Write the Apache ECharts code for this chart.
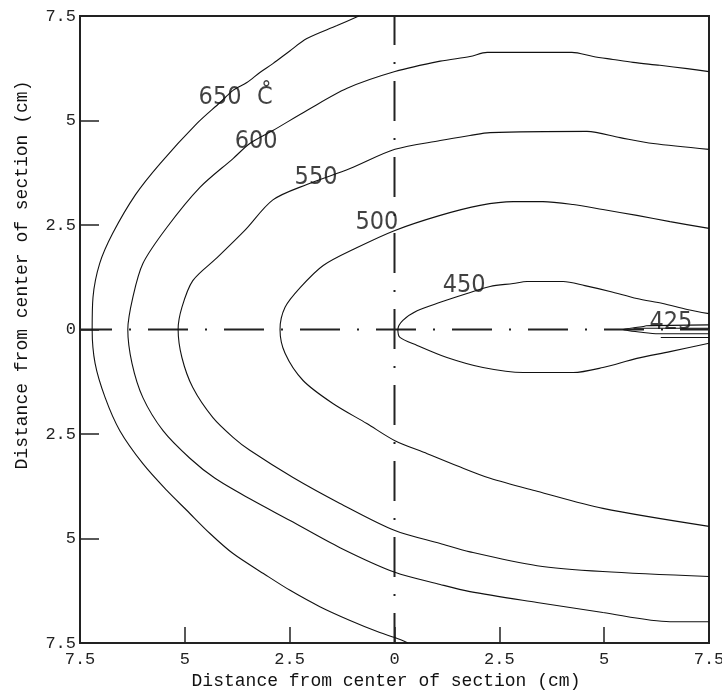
<!DOCTYPE html>
<html>
<head>
<meta charset="utf-8">
<script src="https://cdn.jsdelivr.net/npm/echarts@6/dist/echarts.min.js"></script>
<style>
html,body{margin:0;padding:0;background:#fff;}
#chart{width:722px;height:693px;}
</style>
</head>
<body>
<div id="chart"></div>
<script>
// ---- data (cm from center of section) ----
const axisMin = -7.5, axisMax = 7.5, axisStep = 2.5;
const xTitle = 'Distance from center of section (cm)';
const yTitle = 'Distance from center of section (cm)';

const c650 = [[-0.85,7.5],[-1.37,7.27],[-2.09,6.96],[-2.49,6.67],[-2.90,6.36],[-3.21,6.15],[-3.52,5.91],[-3.85,5.72],[-4.16,5.43],[-4.71,4.93],[-5.59,3.97],[-6.18,3.22],[-6.72,2.30],[-7.03,1.58],[-7.19,0.77],[-7.21,0],[-7.14,-0.81],[-6.90,-1.63],[-6.55,-2.42],[-6.00,-3.21],[-5.43,-3.85],[-4.95,-4.33],[-4.40,-4.88],[-3.85,-5.36],[-3.09,-5.86],[-2.49,-6.24],[-1.78,-6.63],[-1.06,-6.96],[-0.35,-7.25],[0.01,-7.37],[0.32,-7.5]];

const c600 = [[7.5,6.17],[6.98,6.24],[6.33,6.32],[5.69,6.39],[5.21,6.46],[4.74,6.53],[4.23,6.63],[2.21,6.63],[1.80,6.53],[1.09,6.42],[0.01,6.17],[-1.13,5.77],[-2.09,5.24],[-2.90,4.76],[-3.45,4.45],[-3.85,4.09],[-4.64,3.40],[-5.43,2.44],[-6.00,1.58],[-6.24,0.77],[-6.36,0],[-6.26,-0.81],[-6.00,-1.63],[-5.52,-2.42],[-4.88,-3.08],[-4.28,-3.56],[-3.45,-4.05],[-2.49,-4.57],[-1.30,-5.22],[0.01,-5.81],[1.09,-6.10],[1.80,-6.27],[3.40,-6.53],[4.97,-6.77],[6.57,-6.99],[7.5,-6.99]];

const c550 = [[7.5,4.31],[6.17,4.45],[5.38,4.59],[4.59,4.74],[2.28,4.71],[1.80,4.64],[1.09,4.52],[0.01,4.31],[-1.06,3.85],[-2.09,3.47],[-2.90,3.10],[-3.57,2.37],[-4.23,1.72],[-4.81,1.17],[-5.07,0.53],[-5.16,0],[-5.07,-0.67],[-4.81,-1.39],[-4.33,-2.11],[-3.85,-2.58],[-3.45,-2.89],[-2.42,-3.54],[-1.30,-4.16],[0.01,-4.81],[1.09,-5.12],[1.80,-5.32],[3.40,-5.65],[4.97,-5.79],[7.5,-5.91]];

const c500 = [[7.5,2.42],[6.57,2.58],[5.78,2.73],[4.97,2.87],[4.26,2.99],[3.54,3.06],[2.83,3.06],[2.04,2.97],[1.09,2.73],[0.01,2.37],[-0.89,1.96],[-1.70,1.53],[-2.25,1.00],[-2.61,0.53],[-2.73,0],[-2.61,-0.57],[-2.18,-1.22],[-1.47,-1.77],[-0.66,-2.25],[0.01,-2.66],[0.78,-2.97],[1.49,-3.26],[2.28,-3.56],[3.40,-3.87],[4.97,-4.28],[7.5,-4.71]];

const c450 = [[7.5,0.38],[6.98,0.48],[6.40,0.62],[5.78,0.74],[5.14,0.91],[4.54,1.05],[4.02,1.15],[3.16,1.15],[2.83,1.10],[2.28,1.03],[1.73,0.86],[1.09,0.65],[0.54,0.45],[0.20,0.22],[0.08,0],[0.13,-0.19],[0.54,-0.38],[1.25,-0.67],[2.11,-0.91],[3.07,-1.03],[4.26,-1.03],[4.97,-0.91],[5.78,-0.69],[6.57,-0.53],[7.5,-0.33]];

const c425 = [[7.5,0.11],[6.0,0.09],[5.93,0.07],[5.45,0.0],[5.93,-0.07],[6.3,-0.1],[7.5,-0.1]];
const c425b = [[5.7,0.03],[7.5,0.03]];
const c425c = [[6.35,-0.19],[7.5,-0.19]];

const centerH = [[-7.5,0],[7.5,0]];
const centerV = [[0,7.5],[0,-7.5]];

const contourLabels = [[-4.16,5.55,'650'],[-3.09,5.55,'C\u030A'],[-3.30,4.50,'600'],[-1.87,3.64,'550'],[-0.42,2.56,'500'],[1.66,1.05,'450'],[6.59,0.17,'425']];

// ---- chart ----
const chart = echarts.init(document.getElementById('chart'), null, {renderer:'canvas'});
const monoFont = "'Liberation Mono','DejaVu Sans Mono',monospace";
const labelFont = "'Liberation Sans Narrow','DejaVu Sans Condensed','Liberation Sans',sans-serif";
const ink = '#111';

function contour(data){
  return {type:'line', data:data, symbol:'none', smooth:0.3, silent:true,
    lineStyle:{color:ink, width:1.1}, z:3};
}
function axisCommon(){
  return {
    type:'value', min:axisMin, max:axisMax, interval:axisStep,
    axisLine:{show:true, onZero:false, lineStyle:{color:'#222', width:2}},
    axisTick:{show:true, inside:true, lineStyle:{color:'#222', width:1.5}},
    splitLine:{show:false},
    axisLabel:{formatter:v=>String(Math.abs(v)), fontFamily:monoFont, fontSize:17, color:'#222'}
  };
}
const xAxis = axisCommon(); xAxis.axisTick.length = 16; xAxis.axisLabel.margin = 8;
const yAxis = axisCommon(); yAxis.axisTick.length = 19; yAxis.axisLabel.margin = 4;

const option = {
  animation:false,
  backgroundColor:'#fff',
  grid:{left:80, right:13, top:16, bottom:50, containLabel:false, outerBoundsMode:'none',
    show:true, borderColor:'#222', borderWidth:2, backgroundColor:'transparent'},
  xAxis:xAxis,
  yAxis:yAxis,
  graphic:[
    {type:'text', x:386, y:681, style:{text:xTitle, font:"18px "+monoFont, fill:'#111', align:'center', verticalAlign:'middle'}},
    {type:'text', x:22, y:275, rotation:Math.PI/2, style:{text:yTitle, font:"18px "+monoFont, fill:'#111', align:'center', verticalAlign:'middle'}}
  ],
  series:[
    {type:'line', data:centerH, symbol:'none', silent:true, z:2,
      lineStyle:{color:'#222', width:2, type:[40,17,2,17], dashOffset:8}},
    {type:'line', data:centerV, symbol:'none', silent:true, z:2,
      lineStyle:{color:'#222', width:2, type:[40,17,2,17], dashOffset:11}},
    contour(c650), contour(c600), contour(c550), contour(c500), contour(c450),
    contour(c425), contour(c425b), contour(c425c),
    {type:'scatter', data:contourLabels, symbolSize:0, silent:true, z:5,
      label:{show:true, position:'inside', formatter:p=>p.data[2],
        fontFamily:labelFont, fontSize:25, color:'#111'}}
  ]
};
chart.setOption(option);
</script>
</body>
</html>
